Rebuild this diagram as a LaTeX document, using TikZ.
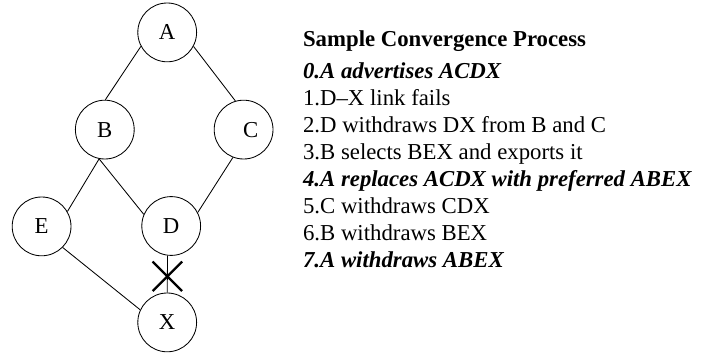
\documentclass[tikz,border=0pt]{standalone}
\usepackage{fontspec}
\setmainfont{Liberation Serif}
\usetikzlibrary{shapes.misc}

\tikzset{router/.style={draw,circle,line width=0.6pt,minimum size=1.47cm,inner sep=0pt},
  link/.style={-,line width=0.6pt},
  broken/.style={draw,cross out,line width=1.6pt,minimum size=0.68cm,inner sep=0pt},
  event/.style={anchor=base west,inner sep=0pt}}

\begin{document}
\begin{tikzpicture}[font=\fontsize{16.2}{19}\selectfont]
  \useasboundingbox (0,0) rectangle (17.75,-8.9);

  \draw (4.18,-0.81) node[router] (A) {A};
      \draw (2.62,-3.24) node[router] (B) {B};
      \draw (6.09,-3.24) node[router] (C) {\hspace*{0.35cm}C};
  \draw (1.04,-5.66) node[router] (E) {E};
  \draw (4.28,-5.65) node[router] (D) {D};
      \draw (4.18,-8.06) node[router] (X) {X};

    \path[link] (A.208) edge (B.89);
    \path[link] (A.332) edge (C.106);
      \path[link] (B.259) edge (E.30);
      \path[link] (B.259) edge (D.157);
      \path[link] (C.249) edge (D.27);
       \path[link] (E.315) edge (X.155);
       \path[link] (D.263) edge node[broken,pos=0.56] {} (X.north);

  \draw (7.57,-1.175) node[event] (title) {\textbf{Sample Convergence Process}};
  \draw (7.57,-1.975) node[event] (step0) {\textbf{\textit{0.A advertises ACDX}}};
  \draw (7.57,-2.6475) node[event] (step1) {1.D--X link fails};
  \draw (7.57,-3.32) node[event] (step2) {2.D withdraws DX from B and C};
  \draw (7.57,-3.9925) node[event] (step3) {3.B selects BEX and exports it};
  \draw (7.57,-4.665) node[event] (step4) {\textbf{\textit{4.A replaces ACDX with preferred ABEX}}};
  \draw (7.57,-5.3375) node[event] (step5) {5.C withdraws CDX};
  \draw (7.57,-6.01) node[event] (step6) {6.B withdraws BEX};
  \draw (7.57,-6.6825) node[event] (step7) {\textbf{\textit{7.A withdraws ABEX}}};

\end{tikzpicture}
\end{document}
